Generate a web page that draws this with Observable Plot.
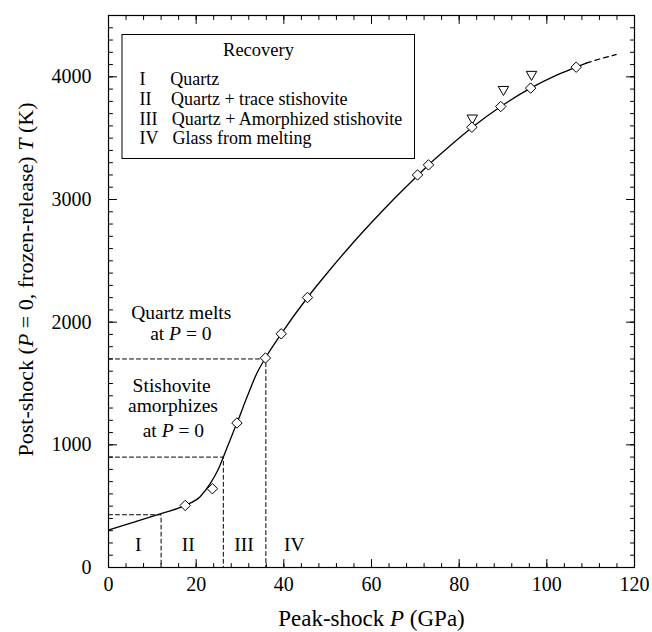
<!DOCTYPE html>
<html><head><meta charset="utf-8">
<script src="https://cdn.jsdelivr.net/npm/d3@7"></script>
<script src="https://cdn.jsdelivr.net/npm/@observablehq/plot@0.6"></script>
<style>body{margin:0;background:#fff;}</style>
</head><body><div id="chart"></div>
<script>
// ---- data ----
const diamondPressure    = [17.5, 23.7, 29.3, 35.8, 39.4, 45.4, 70.5, 73.0, 82.9, 89.5, 96.3, 106.7];
const diamondTemperature = [506, 642, 1178, 1708, 1905, 2201, 3200, 3282, 3589, 3758, 3908, 4079];
const trianglePressure    = [83.0, 90.1, 96.5];
const triangleTemperature = [3664, 3897, 4020];

const curvePressure    = [0, 6, 12, 17.5, 20.9, 23.2, 25.1, 26.2, 27.7, 29.3, 31.6, 33.8, 35.8, 39.4, 45.4, 50, 55, 60, 65, 70.5, 73, 78, 83, 89.5, 96.3, 102, 106.7, 109];
const curveTemperature = [305, 372, 440, 506, 577, 683, 805, 900, 1036, 1177, 1389, 1580, 1708, 1905, 2201, 2405, 2615, 2812, 3000, 3195, 3282, 3440, 3589, 3758, 3908, 4010, 4079, 4112];
const extPressure    = [109, 112.5, 115.8];
const extTemperature = [4112, 4150, 4182];

// boundaries: pressure where each recovery regime ends, and its post-shock T
const boundaryPressure    = [12, 26.2, 35.9];
const boundaryTemperature = [430, 900, 1700];

const xTicks = [0, 20, 40, 60, 80, 100, 120];
const yTicks = [0, 1000, 2000, 3000, 4000];
const xMinor = d3.range(0, 121, 4);
const yMinor = d3.range(0, 4501, 100);

const regionLabels = ["I", "II", "III", "IV"];
const regionCenters = [6.8, 18.2, 30.9, 42.4];
const legendNumerals = ["I", "II", "III", "IV"];
const legendTexts = ["Quartz", "Quartz + trace stishovite", "Quartz + Amorphized stishovite", "Glass from melting"];

// ---- build tables ----
const diamonds = diamondPressure.map((p, i) => ({P: p, T: diamondTemperature[i]}));
const triangles = trianglePressure.map((p, i) => ({P: p, T: triangleTemperature[i]}));
const curve = curvePressure.map((p, i) => ({P: p, T: curveTemperature[i]}));
const ext = extPressure.map((p, i) => ({P: p, T: extTemperature[i]}));
const guides = boundaryPressure.flatMap((p, i) => [
  {g: i, P: 0, T: boundaryTemperature[i]},
  {g: i, P: p, T: boundaryTemperature[i]},
  {g: i, P: p, T: 0}
]);

const tickShape = {draw(ctx, l) { ctx.moveTo(0, 0); ctx.lineTo(0, -l); }};
const serif = '"Liberation Serif", "Times New Roman", serif';

function ticks(data, k, anchor, rotate, len) {
  const o = {frameAnchor: anchor, rotate, length: len, shape: tickShape, anchor: "start", stroke: "black", strokeWidth: 1};
  o[k] = d => d;
  return Plot.vector(data, o);
}

const legendRows = legendTexts.map((t, i) => ({n: legendNumerals[i], t, i}));
const rowOffset = [64.2, 84.2, 103.4, 123.2];

const chart = Plot.plot({
  width: 652, height: 632,
  marginLeft: 108, marginRight: 18, marginTop: 15, marginBottom: 65,
  x: {domain: [0, 120], axis: null},
  y: {domain: [0, 4500], axis: null},
  style: {fontFamily: serif, background: "white", color: "black", overflow: "visible"},
  marks: [
    Plot.line(guides, {x: "P", y: "T", z: "g", stroke: "black", strokeWidth: 1, strokeDasharray: "4,3"}),
    Plot.line(curve, {x: "P", y: "T", curve: "monotone-x", stroke: "black", strokeWidth: 1.3}),
    Plot.line(ext, {x: "P", y: "T", curve: "monotone-x", stroke: "black", strokeWidth: 1.3, strokeDasharray: "5,4"}),
    Plot.dot(triangles, {x: "P", y: "T", symbol: "triangle2", rotate: 180, r: 5, fill: "white", stroke: "black", strokeWidth: 1}),
    Plot.dot(diamonds, {x: "P", y: "T", symbol: "diamond2", r: 4.7, fill: "white", stroke: "black", strokeWidth: 1}),
    Plot.frame({stroke: "black", strokeWidth: 1.2}),
    // inward ticks on all four sides
    ticks(xMinor, "x", "bottom", 0, 4), ticks(xTicks, "x", "bottom", 0, 8),
    ticks(xMinor, "x", "top", 180, 4), ticks(xTicks, "x", "top", 180, 8),
    ticks(yMinor, "y", "left", 90, 4), ticks(yTicks, "y", "left", 90, 8),
    ticks(yMinor, "y", "right", -90, 4), ticks(yTicks, "y", "right", -90, 8),
    // tick labels
    Plot.text(xTicks, {x: d => d, frameAnchor: "bottom", dy: 17, text: d => String(d), fontSize: 20, lineAnchor: "middle", textAnchor: "middle"}),
    Plot.text(yTicks, {y: d => d, frameAnchor: "left", dx: -17, text: d => String(d), fontSize: 20, textAnchor: "end"}),
    // axis titles
    Plot.text(["Peak-shock *P* (GPa)"], {frameAnchor: "bottom", dy: 51, fontSize: 23, lineAnchor: "middle", textAnchor: "middle"}),
    Plot.text(["Post-shock (*P* = 0, frozen-release) *T* (K)"], {frameAnchor: "left", dx: -83, dy: -12, rotate: -90, fontSize: 22, lineAnchor: "middle", textAnchor: "middle"}),
    // legend box
    Plot.frame({stroke: "black", strokeWidth: 1, insetLeft: 13.5, insetTop: 19, insetRight: 220, insetBottom: 409, fill: "white"}),
    Plot.text(["Recovery"], {frameAnchor: "top-left", dx: 150, dy: 34.5, fontSize: 18.5, textAnchor: "middle", lineAnchor: "middle"}),
    ...legendRows.map((r, i) => Plot.text([r.n], {frameAnchor: "top-left", dx: 31, dy: rowOffset[i], fontSize: 18, textAnchor: "start", lineAnchor: "middle"})),
    ...legendRows.map((r, i) => Plot.text([r.t], {frameAnchor: "top-left", dx: 61.8 + i * 0.7, dy: rowOffset[i], fontSize: 18, textAnchor: "start", lineAnchor: "middle"})),
    // annotations
    Plot.text(["Quartz melts"], {x: [16.6], y: [2080], fontSize: 19.5}),
    Plot.text(["at *P* = 0"], {x: [16.5], y: [1909], fontSize: 19.5}),
    Plot.text(["Stishovite"], {x: [14.4], y: [1480], fontSize: 19.5}),
    Plot.text(["amorphizes"], {x: [14.7], y: [1317], fontSize: 19.5}),
    Plot.text(["at *P* = 0"], {x: [14.8], y: [1111], fontSize: 19.5}),
    Plot.text(regionLabels, {x: (d, i) => regionCenters[i], y: () => 183, fontSize: 19.5})
  ]
});

// italic math variables: *X* -> <tspan font-style="italic">X</tspan>
chart.querySelectorAll("text").forEach(t => {
  const s = t.textContent;
  if (!s.includes("*")) return;
  t.textContent = "";
  s.split(/(\*[^*]+\*)/).forEach(part => {
    if (!part) return;
    if (part.startsWith("*")) {
      const ts = document.createElementNS("http://www.w3.org/2000/svg", "tspan");
      ts.setAttribute("font-style", "italic");
      ts.textContent = part.slice(1, -1);
      t.appendChild(ts);
    } else {
      t.appendChild(document.createTextNode(part));
    }
  });
  t.setAttribute("xml:space", "preserve");
  t.style.whiteSpace = "pre";
});

document.getElementById("chart").appendChild(chart);
</script>
</body></html>
